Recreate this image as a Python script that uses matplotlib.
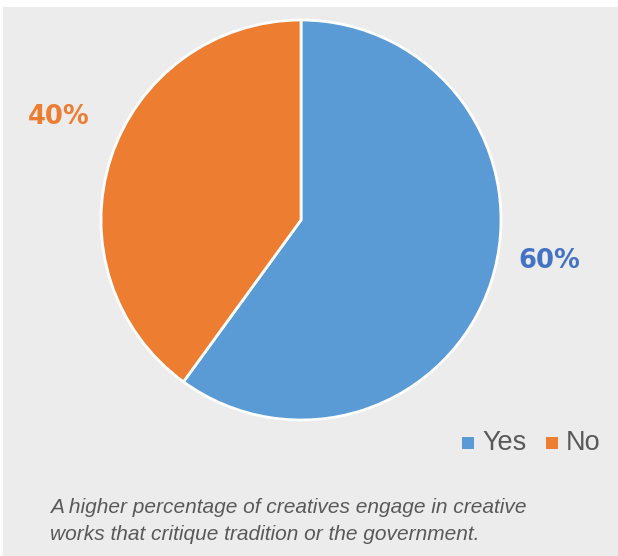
import numpy as np
import matplotlib.pyplot as plt
from matplotlib.patches import Rectangle

labels = ['Yes', 'No']
shares = [60, 40]
colors = ['#5b9bd5', '#ed7d31']
label_colors = ['#4472c4', '#ed7d31']
caption = ('A higher percentage of creatives engage in creative\n'
           'works that critique tradition or the government.')

W, H = 618, 556
fig = plt.figure(figsize=(W / 100, H / 100), dpi=100)
fig.patch.set_facecolor('white')

# gray panel behind everything
bg = fig.add_axes([0, 0, 1, 1])
bg.set_xlim(0, W)
bg.set_ylim(H, 0)
bg.axis('off')
bg.add_patch(Rectangle((3, 7), W - 3, H - 7, facecolor='#ececec', edgecolor='none'))

# pie: center (301, 220), radius 200 px
cx, cy, r = 301, 220, 200
ax = fig.add_axes([(cx - r) / W, 1 - (cy + r) / H, 2 * r / W, 2 * r / H])
ax.pie(shares, colors=colors, startangle=90, counterclock=False,
       wedgeprops=dict(edgecolor='white', linewidth=2))
ax.set_aspect('equal')
ax.set_xlim(-1, 1)
ax.set_ylim(-1, 1)

# percentage labels outside the slices
label_pos = [(549, 261), (59, 117)]
for v, c, (x, y) in zip(shares, label_colors, label_pos):
    bg.text(x, y, '%d%%' % v, color=c, fontsize=18.5, fontweight='bold',
            family='DejaVu Sans', ha='center', va='center')

# legend
leg_x = [462, 546]
for lab, c, x in zip(labels, colors, leg_x):
    bg.add_patch(Rectangle((x, 437), 12, 12, facecolor=c, edgecolor='none'))
    bg.text(x + 20, 443, lab, color='#595959', fontsize=19.5,
            family='Liberation Sans', ha='left', va='center')

bg.text(50, 521, caption, color='#595959', fontsize=15, style='italic',
        family='Liberation Sans', ha='left', va='center', linespacing=1.5)

fig.savefig('out.png', dpi=100, facecolor=fig.get_facecolor())
